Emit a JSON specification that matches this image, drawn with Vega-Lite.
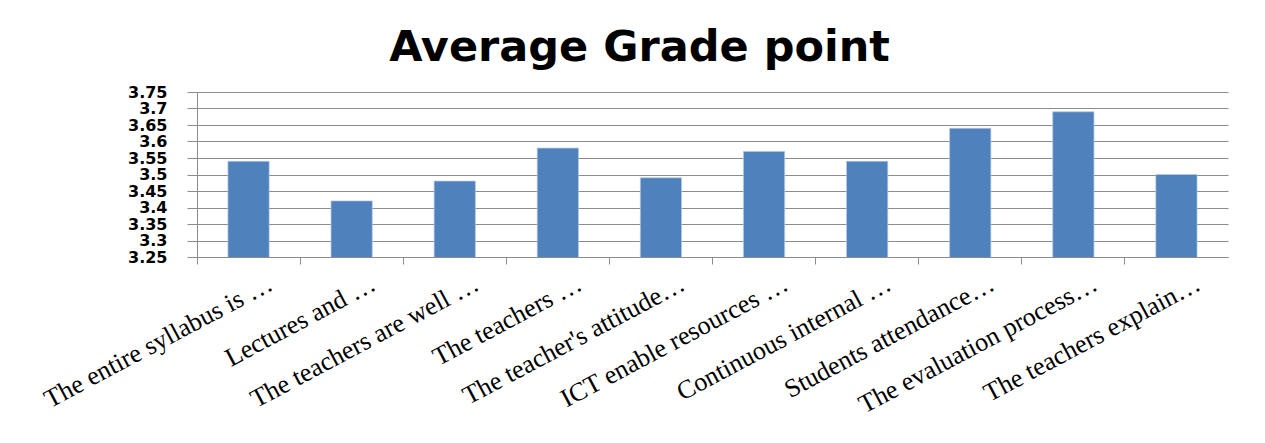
{
  "$schema": "https://vega.github.io/schema/vega-lite/v6.json",
  "autosize": {"type": "none"},
  "width": 1031,
  "height": 165,
  "padding": {"left": 197, "top": 92, "right": 37, "bottom": 186},
  "background": "white",
  "title": {
    "text": "Average Grade point",
    "font": "DejaVu Sans",
    "fontWeight": "bold",
    "fontSize": 43,
    "color": "black",
    "anchor": "middle",
    "dx": -73,
    "offset": 14
  },
  "data": {
    "values": [
      {"item": "The entire syllabus is …", "grade": 3.54},
      {"item": "Lectures and …", "grade": 3.42},
      {"item": "The teachers are well …", "grade": 3.48},
      {"item": "The teachers …", "grade": 3.58},
      {"item": "The teacher's attitude…", "grade": 3.49},
      {"item": "ICT enable resources …", "grade": 3.57},
      {"item": "Continuous internal …", "grade": 3.54},
      {"item": "Students attendance…", "grade": 3.64},
      {"item": "The evaluation process…", "grade": 3.69},
      {"item": "The teachers explain…", "grade": 3.50}
    ]
  },
  "mark": {"type": "bar", "color": "#4F81BD", "stroke": "#b4c8e4", "strokeWidth": 0.7, "clip": true},
  "encoding": {
    "x": {
      "field": "item",
      "type": "nominal",
      "sort": null,
      "title": null,
      "scale": {"paddingInner": 0.6, "paddingOuter": 0.3},
      "axis": {
        "bandPosition": -0.75,
        "labelAngle": -28,
        "labelAlign": "right",
        "labelBaseline": "top",
        "labelOffset": 16,
        "labelPadding": 6,
        "labelFont": "Liberation Serif",
        "labelFontSize": 26,
        "labelColor": "black",
        "labelLimit": 0,
        "labelOverlap": false,
        "domainColor": "#8c8c8c",
        "tickColor": "#8c8c8c",
        "tickSize": 7,
        "grid": false
      }
    },
    "y": {
      "field": "grade",
      "type": "quantitative",
      "title": null,
      "scale": {"domain": [3.25, 3.75], "nice": false, "zero": false},
      "axis": {
        "values": [3.25, 3.3, 3.35, 3.4, 3.45, 3.5, 3.55, 3.6, 3.65, 3.7, 3.75],
        "format": "~g",
        "labelFont": "DejaVu Sans",
        "labelFontWeight": "bold",
        "labelFontSize": 16,
        "labelColor": "black",
        "labelPadding": 20,
        "labelOverlap": false,
        "labelFlush": false,
        "labelBaseline": "middle",
        "domainColor": "#8c8c8c",
        "tickColor": "#8c8c8c",
        "tickSize": 10,
        "gridColor": "#8c8c8c",
        "gridOpacity": 1
      }
    }
  },
  "config": {
    "view": {"stroke": null}
  }
}
